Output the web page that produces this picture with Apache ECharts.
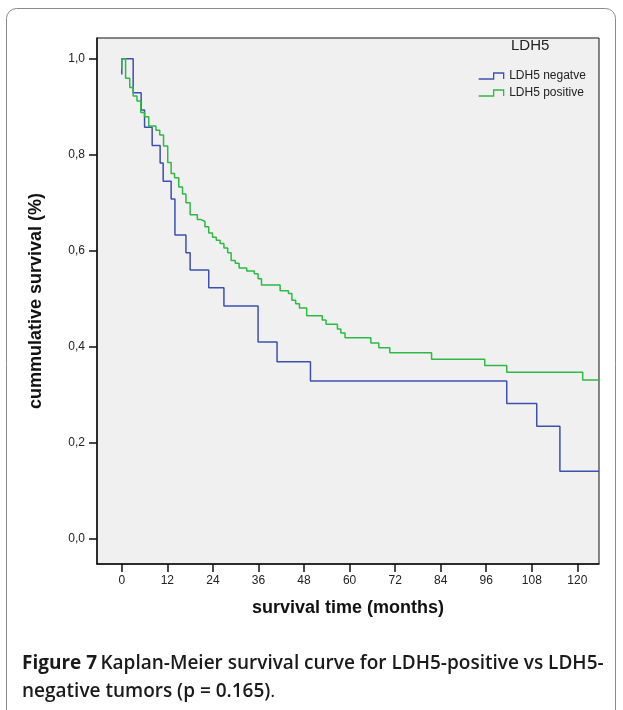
<!DOCTYPE html>
<html>
<head>
<meta charset="utf-8">
<script src="https://cdn.jsdelivr.net/npm/echarts@6/dist/echarts.min.js"></script>
<style>
  html, body { margin: 0; padding: 0; background: #fff; }
  #chart { width: 623px; height: 710px; }
</style>
</head>
<body>
<div id="chart"></div>
<script>
// Kaplan-Meier step curves: event times (months) and survival after each step
const negTimes = [0, 0, 3.0, 5.1, 6.0, 8.0, 10.1, 10.9, 13.0, 14.0, 16.9, 18.0, 22.9, 26.9, 35.9, 40.9, 49.7, 101.4, 109.3, 115.4, 125.7];
const negSurv  = [0.967, 1.0, 0.929, 0.893, 0.857, 0.819, 0.783, 0.745, 0.708, 0.633, 0.596, 0.560, 0.523, 0.485, 0.410, 0.369, 0.329, 0.282, 0.235, 0.141, 0.141];

const posTimes = [0, 0, 1.0, 2.1, 3.0, 4.0, 5.0, 6.0, 7.1, 9.0, 10.0, 11.0, 12.1, 13.0, 13.9, 15.0, 16.0, 16.9, 18.0,
                  19.9, 20.9, 21.9, 22.9, 23.9, 24.9, 25.9, 26.9, 27.9, 28.8, 29.9, 30.9, 32.9, 34.9, 35.9, 36.8,
                  41.7, 43.9, 44.8, 45.8, 46.8, 48.7, 52.8, 53.8, 56.8, 57.7, 58.8, 65.6, 67.7, 70.6, 81.6, 95.6,
                  101.4, 121.4, 125.7];
const posSurv  = [0.978, 1.0, 0.959, 0.940, 0.922, 0.912, 0.888, 0.879, 0.860, 0.851, 0.841, 0.818, 0.784, 0.761, 0.752, 0.733, 0.718, 0.700, 0.675,
                  0.665, 0.661, 0.650, 0.637, 0.628, 0.622, 0.615, 0.606, 0.596, 0.580, 0.574, 0.564, 0.558, 0.552, 0.542, 0.529,
                  0.517, 0.511, 0.497, 0.490, 0.481, 0.465, 0.456, 0.447, 0.437, 0.429, 0.419, 0.408, 0.398, 0.388, 0.374, 0.361,
                  0.347, 0.331, 0.331];

const seriesNames = ['LDH5 negatve', 'LDH5 positive'];
const xTicks = [0, 12, 24, 36, 48, 60, 72, 84, 96, 108, 120];
const yTicks = [0, 0.2, 0.4, 0.6, 0.8, 1.0];

const BLUE = '#3D50AE';
const GREEN = '#2EB846';
const AXIS_FONT = 'Liberation Sans, Arial, sans-serif';
const CAPTION_FONT = 'Open Sans, sans-serif';

const zip = (xs, ys) => xs.map((x, i) => [x, ys[i]]);

// legend glyph: a small step, as drawn by survival plots
const stepIcon = 'path://M0,6 L15,6 L15,0 L25,0 L25,6';

const chart = echarts.init(document.getElementById('chart'), null, { renderer: 'canvas' });

chart.setOption({
  animation: false,
  backgroundColor: '#ffffff',
  grid: {
    left: 97, right: 24, top: 38, bottom: 146,
    show: true,
    backgroundColor: '#F0F0F0',
    borderColor: '#111',
    borderWidth: 1
  },
  xAxis: {
    type: 'value',
    min: -6.53,
    max: 125.7,
    name: 'survival time (months)',
    nameLocation: 'middle',
    nameGap: 35,
    nameTextStyle: { fontFamily: AXIS_FONT, fontWeight: 'bold', fontSize: 18, color: '#111' },
    splitLine: { show: false },
    axisLine: { onZero: false, lineStyle: { color: '#111', width: 1.5 } },
    axisTick: { customValues: xTicks, length: 8, lineStyle: { color: '#111', width: 1.5 } },
    axisLabel: { customValues: xTicks, color: '#222', fontSize: 12, fontFamily: AXIS_FONT, margin: 11 }
  },
  yAxis: {
    type: 'value',
    min: -0.052,
    max: 1.043,
    name: 'cummulative survival (%)',
    nameLocation: 'middle',
    nameGap: 52,
    nameTextStyle: { fontFamily: AXIS_FONT, fontWeight: 'bold', fontSize: 18, color: '#111' },
    splitLine: { show: false },
    axisLine: { onZero: false, lineStyle: { color: '#111', width: 1.5 } },
    axisTick: { customValues: yTicks, length: 8, lineStyle: { color: '#111', width: 1.5 } },
    axisLabel: {
      customValues: yTicks,
      color: '#222', fontSize: 12, fontFamily: AXIS_FONT, margin: 12,
      formatter: v => v.toFixed(1).replace('.', ',')
    }
  },
  legend: {
    orient: 'vertical',
    left: 473,
    top: 65,
    itemWidth: 26,
    itemHeight: 6,
    itemGap: 5,
    textStyle: { fontFamily: AXIS_FONT, fontSize: 12, color: '#222' },
    data: [
      { name: seriesNames[0], icon: stepIcon, itemStyle: { color: 'transparent', borderColor: BLUE, borderWidth: 1.3 } },
      { name: seriesNames[1], icon: stepIcon, itemStyle: { color: 'transparent', borderColor: GREEN, borderWidth: 1.3 } }
    ]
  },
  graphic: [
    {
      type: 'rect', z: -10, silent: true,
      shape: { x: 6.5, y: 8.5, width: 609, height: 720, r: 10 },
      style: { fill: 'transparent', stroke: '#8a8a8a', lineWidth: 1 }
    },
    {
      type: 'text', left: 511, top: 38, z: 10,
      style: { text: 'LDH5', fontFamily: AXIS_FONT, fontSize: 15, fill: '#222' }
    },
    {
      type: 'text', left: 22, top: 650, z: 10,
      style: {
        text: '{b|Figure 7} {s|Kaplan-Meier survival curve for LDH5-positive vs LDH5-}\n{s|negative tumors (p = 0.165)}{n|.}',
        lineHeight: 28,
        rich: {
          b: { fontFamily: CAPTION_FONT, fontWeight: 'bold', fontSize: 19, fill: '#1a1a1a', lineHeight: 28 },
          s: { fontFamily: CAPTION_FONT, fontWeight: 600, fontSize: 19, fill: '#1a1a1a', lineHeight: 28 },
          n: { fontFamily: CAPTION_FONT, fontWeight: 'normal', fontSize: 19, fill: '#1a1a1a', lineHeight: 28 }
        }
      }
    }
  ],
  series: [
    {
      name: seriesNames[0],
      type: 'line',
      step: 'end',
      showSymbol: false,
      data: zip(negTimes, negSurv),
      color: BLUE,
      lineStyle: { color: BLUE, width: 1.5 }
    },
    {
      name: seriesNames[1],
      type: 'line',
      step: 'end',
      showSymbol: false,
      data: zip(posTimes, posSurv),
      color: GREEN,
      lineStyle: { color: GREEN, width: 1.5 }
    }
  ]
});
</script>
</body>
</html>
